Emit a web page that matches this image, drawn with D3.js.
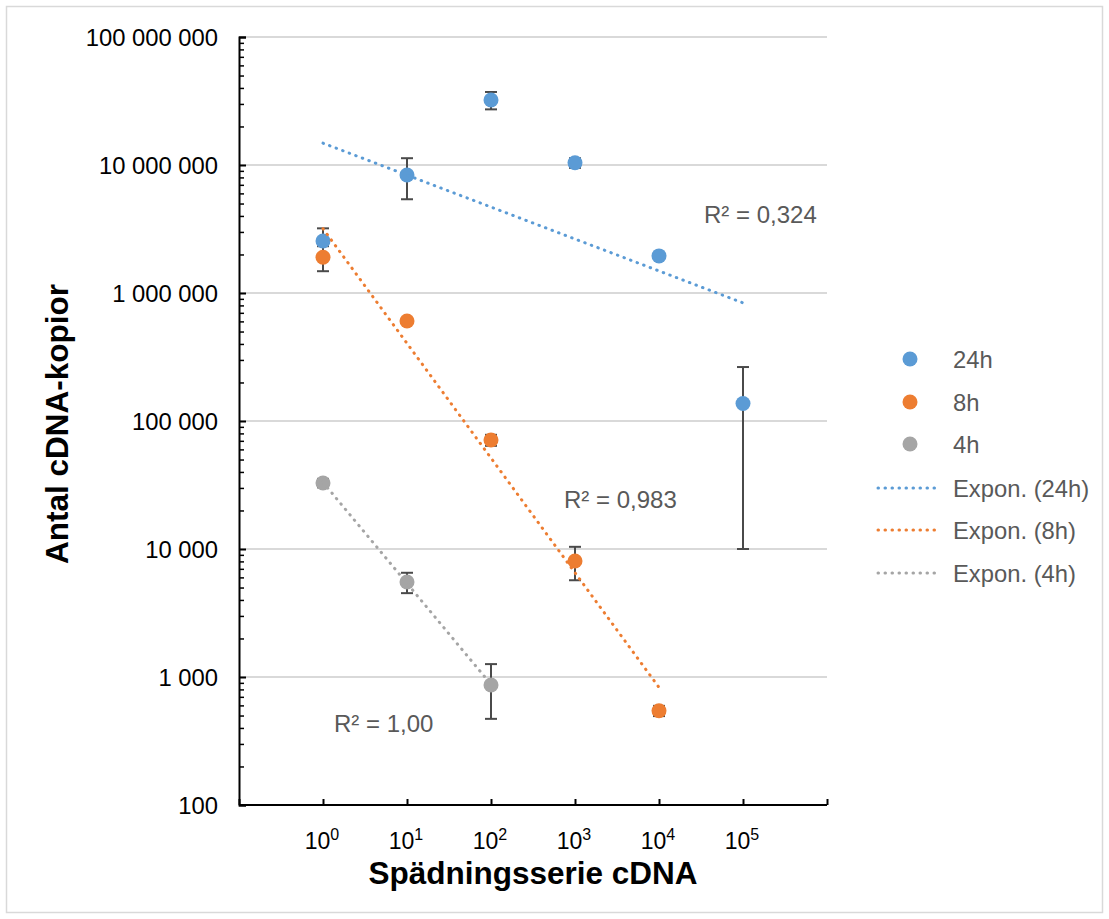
<!DOCTYPE html>
<html>
<head>
<meta charset="utf-8">
<script src="https://cdn.jsdelivr.net/npm/d3@7"></script>
<style>
  body { margin: 0; background: #fff; }
  svg { display: block; font-family: "Liberation Sans", Arial, sans-serif; }
</style>
</head>
<body>
<div id="chart"></div>
<script>
// dilution steps (exponent of 10) and measured copies, per series
const steps = [0, 1, 2, 3, 4, 5];
const seriesNames = ["24h", "8h", "4h"];
const values24h = [2550000, 8350000, 32200000, 10400000, 1950000, 137000];
const errors24h = [650000, 2950000, 5000000, 900000, 100000, 127000];
const values8h = [1900000, 604000, 71000, 8050, 545];
const errors8h = [420000, 30000, 7000, 2350, 50];
const values4h = [32800, 5520, 866];
const errors4h = [2500, 1000, 395];
const yTicks = [100, 1000, 10000, 100000, 1000000, 10000000, 100000000];
const colors = ["#5b9bd5", "#ed7d31", "#a5a5a5"];

const W = 1109, H = 919;
const plotLeft = 239, plotRight = 827, plotTop = 37, plotBottom = 805;

const svg = d3.select("#chart").append("svg")
  .attr("width", W).attr("height", H);

// outer frame
svg.append("rect")
  .attr("x", 6.5).attr("y", 6.5)
  .attr("width", W - 13).attr("height", H - 13)
  .attr("fill", "none").attr("stroke", "#d9d9d9").attr("stroke-width", 1.5);

let x = d3.scaleLinear().domain([-1, 6]).range([plotLeft, plotRight]);
let y = d3.scaleLog().domain([100, 100000000]).range([plotBottom, plotTop]);

const loc = d3.formatLocale({decimal: ",", thousands: "\u00a0", grouping: [3], currency: ["", ""]});
const fmt = loc.format(",d");

// gridlines
svg.append("g").selectAll("line")
  .data(yTicks.slice(1))
  .enter().append("line")
  .attr("x1", plotLeft).attr("x2", plotRight)
  .attr("y1", d => y(d)).attr("y2", d => y(d))
  .attr("stroke", "#d9d9d9").attr("stroke-width", 2);

// y axis with minor ticks inside
let minor = [];
yTicks.slice(0, -1).forEach(t => { for (let k = 2; k < 10; k++) minor.push(t * k); });

let yAxisMinor = d3.axisRight(y).tickValues(minor).tickSize(5).tickFormat("");
let gMinor = svg.append("g").attr("transform", `translate(${plotLeft},0)`).call(yAxisMinor);
gMinor.select(".domain").remove();
gMinor.selectAll("line").attr("stroke", "#000").attr("stroke-width", 1.5);

let yAxis = d3.axisRight(y).tickValues(yTicks).tickSize(7).tickFormat("");
let gy = svg.append("g").attr("transform", `translate(${plotLeft},0)`).call(yAxis);
gy.select(".domain").attr("stroke", "#000").attr("stroke-width", 2);
gy.selectAll("line").attr("stroke", "#000").attr("stroke-width", 2);

svg.append("g").selectAll("text")
  .data(yTicks)
  .enter().append("text")
  .attr("x", 218).attr("y", d => y(d))
  .attr("dy", "0.36em")
  .attr("text-anchor", "end")
  .attr("font-size", 23.8)
  .attr("fill", "#000")
  .text(d => fmt(d));

// x axis
let xAxis = d3.axisTop(x).tickValues(d3.range(-1, 7)).tickSize(6).tickFormat("");
let gx = svg.append("g").attr("transform", `translate(0,${plotBottom})`).call(xAxis);
gx.select(".domain").attr("stroke", "#000").attr("stroke-width", 2).attr("d", `M${plotLeft},0H${plotRight}`);
gx.selectAll("line").attr("stroke", "#000").attr("stroke-width", 2);

let xl = svg.append("g").selectAll("text")
  .data(steps)
  .enter().append("text")
  .attr("x", d => x(d) - 1).attr("y", 849)
  .attr("text-anchor", "middle")
  .attr("font-size", 23)
  .attr("fill", "#000");
xl.append("tspan").text("10");
xl.append("tspan").attr("dy", -9).attr("font-size", 16).text(d => d);

// axis titles
svg.append("text")
  .attr("x", (plotLeft + plotRight) / 2).attr("y", 884)
  .attr("text-anchor", "middle")
  .attr("font-size", 31.5).attr("font-weight", "bold")
  .text("Spädningsserie cDNA");

svg.append("text")
  .attr("transform", `translate(68,${(plotTop + plotBottom) / 2 + 3}) rotate(-90)`)
  .attr("text-anchor", "middle")
  .attr("font-size", 31.5).attr("font-weight", "bold")
  .text("Antal cDNA-kopior");

const allValues = [values24h, values8h, values4h];
const allErrors = [errors24h, errors8h, errors4h];

// error bars
allValues.forEach((vals, s) => {
  let g = svg.append("g").attr("stroke", "#4a4a4a").attr("stroke-width", 2);
  vals.forEach((v, i) => {
    let e = allErrors[s][i];
    let hi = y(v + e), lo = y(v - e);
    let cx = x(steps[i]);
    g.append("line").attr("x1", cx).attr("x2", cx).attr("y1", hi).attr("y2", lo);
    g.append("line").attr("x1", cx - 6).attr("x2", cx + 6).attr("y1", hi).attr("y2", hi);
    g.append("line").attr("x1", cx - 6).attr("x2", cx + 6).attr("y1", lo).attr("y2", lo);
  });
});

// markers
allValues.forEach((vals, s) => {
  svg.append("g").selectAll("circle")
    .data(vals)
    .enter().append("circle")
    .attr("cx", (d, i) => x(steps[i]))
    .attr("cy", d => y(d))
    .attr("r", 7.5)
    .attr("fill", colors[s]);
});

// exponential trendlines: least squares on log10(y)
function fitExp(vals) {
  let xs = steps.slice(0, vals.length);
  let ls = vals.map(v => Math.log10(v));
  let mx = d3.mean(xs), my = d3.mean(ls);
  let sxy = d3.sum(xs, (d, i) => (d - mx) * (ls[i] - my));
  let sxx = d3.sum(xs, d => (d - mx) * (d - mx));
  let b = sxy / sxx, a = my - b * mx;
  let sst = d3.sum(ls, d => (d - my) * (d - my));
  let r2 = (b * b * sxx) / sst;
  return {a: a, b: b, r2: r2, x0: xs[0], x1: xs[xs.length - 1]};
}

const fits = allValues.map(fitExp);
const line = d3.line().x(d => x(d[0])).y(d => y(d[1]));

fits.forEach((f, s) => {
  let pts = [[f.x0, Math.pow(10, f.a + f.b * f.x0)], [f.x1, Math.pow(10, f.a + f.b * f.x1)]];
  svg.append("path")
    .attr("d", line(pts))
    .attr("fill", "none")
    .attr("stroke", colors[s])
    .attr("stroke-width", 3)
    .attr("stroke-linecap", "round")
    .attr("stroke-dasharray", "0.5,6.5");
});

// R² labels
const r2fmt = loc.format(".3g");
const r2pos = [[704, 223], [564, 508], [334, 732]];
fits.forEach((f, s) => {
  svg.append("text")
    .attr("x", r2pos[s][0]).attr("y", r2pos[s][1])
    .attr("font-size", 24).attr("fill", "#595959")
    .text("R² = " + r2fmt(f.r2));
});

// legend
const legendMarkY = [359, 402, 444];
const legendLineY = [488, 530, 573];
let lg = svg.append("g");
seriesNames.forEach((n, s) => {
  lg.append("circle").attr("cx", 910).attr("cy", legendMarkY[s]).attr("r", 7.5).attr("fill", colors[s]);
  lg.append("text").attr("x", 953).attr("y", legendMarkY[s]).attr("dy", "0.36em")
    .attr("font-size", 23.8).attr("fill", "#595959").text(n);
});
seriesNames.forEach((n, s) => {
  lg.append("line").attr("x1", 878).attr("x2", 941)
    .attr("y1", legendLineY[s]).attr("y2", legendLineY[s])
    .attr("stroke", colors[s]).attr("stroke-width", 3)
    .attr("stroke-linecap", "round").attr("stroke-dasharray", "0.5,6.5");
  lg.append("text").attr("x", 953).attr("y", legendLineY[s]).attr("dy", "0.36em")
    .attr("font-size", 23.8).attr("fill", "#595959").text("Expon. (" + n + ")");
});
</script>
</body>
</html>
